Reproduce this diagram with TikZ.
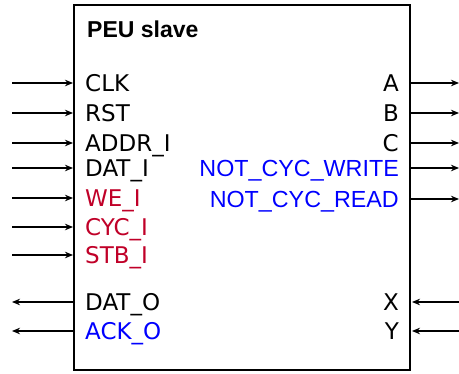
\documentclass[tikz,border=0pt]{standalone}
\usepackage{fontspec}
\setmainfont{DejaVu Sans}
\newfontfamily\arialike{Liberation Sans}
\usetikzlibrary{arrows.meta}
\definecolor{sigred}{RGB}{192,0,40}
\definecolor{sigblue}{RGB}{0,0,255}
\tikzset{
  sig/.style={line width=1.3pt,-{Stealth[length=8pt,width=6.5pt,inset=2.5pt]}},
  lbl/.style={inner sep=0pt,font=\fontsize{23}{23}\selectfont},
  inlbl/.style={lbl,anchor=base west},
  outlbl/.style={lbl,anchor=base east},
  bluelbl/.style={text=sigblue,font=\arialike\fontsize{23.3}{23.3}\selectfont},
}
\begin{document}
\begin{tikzpicture}[x=1pt,y=-1pt]
\useasboundingbox (0,0) rectangle (459,374);
% module body
\draw[line width=2.2pt] (74,5) rectangle (410,370);
\node[inner sep=0pt,anchor=base west,font=\arialike\bfseries\fontsize{23}{23}\selectfont] (title) at (87,38) {PEU slave};

% left side: inputs
\foreach \n/\y/\t/\c in {clk/83/CLK/black, rst/113/RST/black, addr/143/ADDR\_I/black,
  dati/168/DAT\_I/black, we/198/WE\_I/sigred, cyc/227/CYC\_I/sigred, stb/255/STB\_I/sigred}{
  \node[inlbl,text=\c] (l\n) at (85,\y+8.5) {\t};
  \coordinate (s\n) at (12,\y);
  \coordinate (e\n) at (73,\y);
  \draw[sig] (s\n) -- (e\n);
}
% left side: outputs
\node[inlbl] (ldato) at (85,302+8.5) {DAT\_O};
\node[inlbl,text=sigblue] (lacko) at (85,331+8.5) {ACK\_O};
\foreach \n/\y in {dato/302, acko/331}{
  \coordinate (s\n) at (75,\y);
  \coordinate (e\n) at (12,\y);
  \draw[sig] (s\n) -- (e\n);
}
% right side: outputs
\foreach \n/\y/\t in {a/83/A, b/113/B, c/143/C}{
  \node[outlbl] (r\n) at (399,\y+8.5) {\t};
}
\node[outlbl,bluelbl] (rncw) at (399,168+8.5) {NOT\_CYC\_WRITE};
\node[outlbl,bluelbl] (rncr) at (399,199+8.5) {NOT\_CYC\_READ};
\foreach \n/\y in {a/83, b/113, c/143, ncw/168, ncr/199}{
  \coordinate (s\n) at (411,\y);
  \coordinate (e\n) at (459,\y);
  \draw[sig] (s\n) -- (e\n);
}
% right side: inputs
\foreach \n/\y/\t in {x/302/X, y/331/Y}{
  \node[outlbl] (r\n) at (399,\y+8.5) {\t};
  \coordinate (s\n) at (459,\y);
  \coordinate (e\n) at (412,\y);
  \draw[sig] (s\n) -- (e\n);
}
\end{tikzpicture}
\end{document}
